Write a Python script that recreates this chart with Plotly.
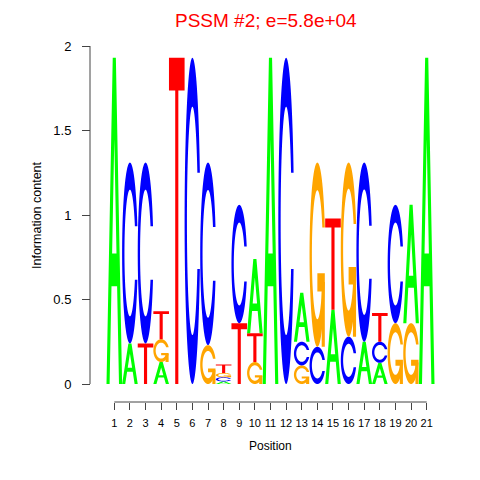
import numpy as np
import plotly.graph_objects as go

## motif data: information content per letter at each position
positions = list(range(1, 22))
ic_A = [1.93, 0.24, 0.00, 0.13, 0.00, 0.00, 0.00, 0.015, 0.00, 0.44, 1.93,
        0.00, 0.29, 0.00, 0.44, 0.00, 0.25, 0.125, 0.00, 0.70, 1.93]
ic_C = [0.00, 1.07, 1.07, 0.00, 0.00, 1.93, 1.08, 0.025, 0.70, 0.00, 0.00,
        1.93, 0.14, 0.22, 0.00, 0.28, 1.06, 0.125, 0.70, 0.00, 0.00]
ic_G = [0.00, 0.00, 0.00, 0.135, 0.00, 0.00, 0.23, 0.025, 0.00, 0.13, 0.00,
        0.00, 0.11, 1.09, 0.00, 1.03, 0.00, 0.00, 0.36, 0.36, 0.00]
ic_T = [0.00, 0.00, 0.24, 0.165, 1.93, 0.00, 0.00, 0.05, 0.36, 0.17, 0.00,
        0.00, 0.00, 0.00, 0.54, 0.00, 0.00, 0.17, 0.00, 0.00, 0.00]
y_ticks = [0, 0.5, 1, 1.5, 2]
y_ticktext = ['0', '0.5', '1', '1.5', '2']

colors = {'A': '#00FF00', 'C': '#0000FF', 'G': '#FFA500', 'T': '#FF0000'}
font = 'Liberation Sans, Arial, sans-serif'

## glyphs in a unit box (seqLogo style polygons)
def c_outline():
    a1 = np.linspace(0.3 + np.pi/2, np.pi, 100)
    a2 = np.linspace(np.pi, 1.5*np.pi, 100)
    xl = np.concatenate([0.5 + 0.5*np.sin(a1), 0.5 + 0.5*np.sin(a2)])
    yl = np.concatenate([0.5 + 0.5*np.cos(a1), 0.5 + 0.5*np.cos(a2)])
    top = (0.5 + 0.5*np.cos(a1)).max()
    x = np.concatenate([xl, xl[::-1]])
    y = np.concatenate([yl, 1 - yl[::-1]])
    xi1 = 0.5 + 0.35*np.sin(a1)
    yi1 = 0.5 + 0.35*np.cos(a1)
    keep = yi1 <= top
    xi1 = xi1[keep]
    yi1 = yi1[keep]
    yi1[0] = top
    xi = np.concatenate([xi1, 0.5 + 0.35*np.sin(a2)])
    yi = np.concatenate([yi1, 0.5 + 0.35*np.cos(a2)])
    x1 = np.concatenate([xi, xi[::-1]])
    y1 = np.concatenate([yi, 1 - yi[::-1]])
    return list(zip(np.concatenate([x, x1[::-1]]), np.concatenate([y, y1[::-1]])))

C_POLY = c_outline()
R1 = 0.5 + 0.5*np.cos(0.3)

def glyph(letter):
    # list of paths, each path is a list of polygons
    if letter == 'A':
        outer = [(0, 0), (0.4, 1), (0.6, 1), (1, 0), (0.8, 0), (0.68, 0.3), (0.32, 0.3), (0.2, 0)]
        hole = [(0.36, 0.4), (0.5, 0.75), (0.64, 0.4)]
        return [[outer, hole]]
    if letter == 'T':
        return [[[(0, 1), (1, 1), (1, 0.9), (0.6, 0.9), (0.6, 0), (0.4, 0), (0.4, 0.9), (0, 0.9)]]]
    if letter == 'C':
        return [[C_POLY]]
    if letter == 'G':
        add = [(R1, 0.4), (0.5, 0.4), (0.5, 0.3), (R1 - 0.2, 0.3), (R1 - 0.2, 0), (R1, 0)]
        return [[C_POLY], [add]]

def to_path(polys, x0, y0, w, h):
    s = ''
    for poly in polys:
        pts = [f'{x0 + px*w:.4f},{y0 + py*h:.5f}' for px, py in poly]
        s += 'M' + 'L'.join(pts) + 'Z'
    return s

shapes = []
wt = 1.0
for i, p in enumerate(positions):
    col = [('A', ic_A[i]), ('C', ic_C[i]), ('G', ic_G[i]), ('T', ic_T[i])]
    col = sorted(col, key=lambda t: t[1])
    ybase = 0
    for letter, h in col:
        if h <= 0:
            continue
        for polys in glyph(letter):
            shapes.append(dict(type='path', xref='x', yref='y',
                               path=to_path(polys, p - wt/2, ybase, wt, h),
                               fillcolor=colors[letter], fillrule='evenodd',
                               line=dict(width=0), layer='above'))
        ybase += h

# R style detached axis lines
axcol = '#444444'
shapes.append(dict(type='line', xref='x', yref='paper', x0=positions[0], x1=positions[-1],
                   y0=0, y1=0, line=dict(color=axcol, width=1)))
shapes.append(dict(type='line', xref='paper', yref='y', x0=0, x1=0,
                   y0=y_ticks[0], y1=y_ticks[-1], line=dict(color=axcol, width=1)))

totals = [a + c + g + t for a, c, g, t in zip(ic_A, ic_C, ic_G, ic_T)]
data = [go.Scatter(x=positions, y=totals, mode='markers', marker=dict(opacity=0),
                   hoverinfo='x+y', showlegend=False)]

# page body has an 8px margin, so the figure is 472 and margins are offset by 8
W = 472
px_unit = 15.62
ml, mr, mt, mb = 82, 38, 38, 78
x_left = positions[0] - 24.3/px_unit
x_right = x_left + (W - ml - mr)/px_unit
d0 = 18/(W - mt - mb)

layout = go.Layout(
    width=W, height=W,
    margin=dict(l=ml, r=mr, t=mt, b=mb, autoexpand=False),
    plot_bgcolor='white', paper_bgcolor='white',
    showlegend=False,
    font=dict(family=font, color='black'),
    xaxis=dict(range=[x_left, x_right], tickvals=positions, ticks='outside', ticklen=7,
               tickcolor=axcol, showgrid=False, zeroline=False, showline=False,
               anchor='free', position=0, tickfont=dict(size=11), tickangle=0,
               ticklabelstandoff=4, automargin=False),
    yaxis=dict(range=[0, 2], domain=[d0, 1], tickvals=y_ticks, ticktext=y_ticktext,
               ticks='outside', ticklen=8, tickcolor=axcol, showgrid=False, zeroline=False,
               showline=False, anchor='free', position=0, tickfont=dict(size=13),
               ticklabelstandoff=8, automargin=False),
    shapes=shapes,
    annotations=[
        dict(xref='paper', yref='paper', x=0.5, y=1, yshift=mt, text='PSSM #2; e=5.8e+04',
             font=dict(size=19, color='red'), showarrow=False, xanchor='center', yanchor='top'),
        dict(xref='x', yref='paper', x=11, y=0, yshift=-44, text='Position',
             font=dict(size=12), showarrow=False, yanchor='middle'),
        dict(xref='paper', yref='y', x=0, xshift=-53, y=1, text='Information content',
             font=dict(size=12.5), showarrow=False, textangle=-90, xanchor='center'),
    ],
)

fig = go.Figure(data=data, layout=layout)
fig.write_html('out.html')
